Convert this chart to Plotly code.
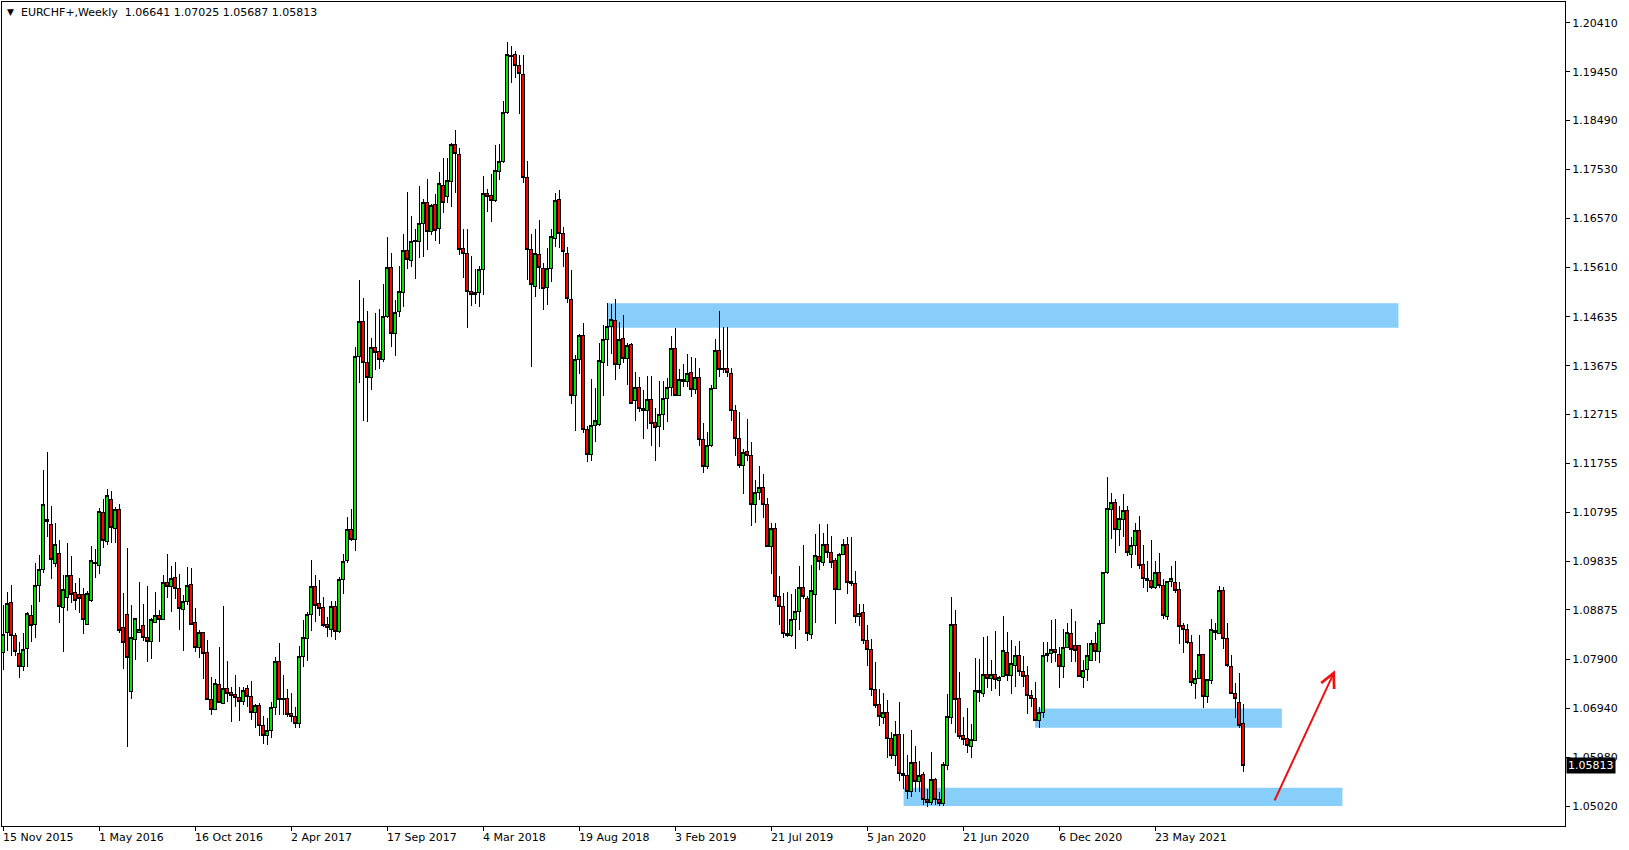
import pandas as pd
import plotly.graph_objects as go

# weekly EURCHF+ candles, starting the week of 15 Nov 2015
first_week = "2015-11-15"

opens = [
    1.0804, 1.0843, 1.0902, 1.0838, 1.0802, 1.0776, 1.0812, 1.0876, 1.0859, 1.0935,
    1.0967, 1.1066, 1.1056, 1.0979, 1.0999, 1.0893, 1.0912, 1.0955, 1.0922, 1.0918,
    1.0917, 1.0859, 1.0906, 1.0980, 1.0975, 1.1079, 1.1022, 1.1105, 1.1048, 1.1084,
    1.0853, 1.0879, 1.0727, 1.0830, 1.0844, 1.0856, 1.0834, 1.0825, 1.0862, 1.0877,
    1.0868, 1.0942, 1.0933, 1.0952, 1.0930, 1.0888, 1.0904, 1.0938, 1.0862, 1.0813,
    1.0844, 1.0803, 1.0712, 1.0692, 1.0740, 1.0704, 1.0734, 1.0726, 1.0722, 1.0716,
    1.0707, 1.0734, 1.0718, 1.0686, 1.0700, 1.0660, 1.0640, 1.0650, 1.0696, 1.0786,
    1.0713, 1.0713, 1.0684, 1.0679, 1.0665, 1.0796, 1.0831, 1.0879, 1.0933, 1.0900,
    1.0893, 1.0858, 1.0850, 1.0895, 1.0846, 1.0948, 1.0984, 1.1046, 1.1025, 1.1386,
    1.1455, 1.1374, 1.1345, 1.1403, 1.1395, 1.1379, 1.1464, 1.1561, 1.1431, 1.1473,
    1.1511, 1.1593, 1.1575, 1.1613, 1.1611, 1.1647, 1.1688, 1.1631, 1.1685, 1.1637,
    1.1721, 1.1700, 1.1729, 1.1802, 1.1783, 1.1597, 1.1588, 1.1513, 1.1508, 1.1512,
    1.1557, 1.1706, 1.1701, 1.1693, 1.1750, 1.1768, 1.1865, 1.1976, 1.1978, 1.1958,
    1.1940, 1.1738, 1.1596, 1.1523, 1.1586, 1.1558, 1.1521, 1.1559, 1.1618, 1.1694,
    1.1628, 1.1588, 1.1498, 1.1308, 1.1380, 1.1426, 1.1242, 1.1192, 1.1249, 1.1251,
    1.1374, 1.1418, 1.1445, 1.1457, 1.1370, 1.1420, 1.1381, 1.1410, 1.1299, 1.1325,
    1.1284, 1.1279, 1.1301, 1.1256, 1.1248, 1.1272, 1.1303, 1.1325, 1.1402, 1.1308,
    1.1341, 1.1336, 1.1354, 1.1321, 1.1345, 1.1223, 1.1170, 1.1210, 1.1323, 1.1398,
    1.1362, 1.1362, 1.1352, 1.1279, 1.1225, 1.1172, 1.1198, 1.1191, 1.1095, 1.1118,
    1.1128, 1.1095, 1.1013, 1.1048, 1.0914, 1.0895, 1.0842, 1.0837, 1.0869, 1.0884,
    1.0932, 1.0910, 1.0839, 1.0918, 1.0993, 1.0981, 1.1017, 1.1001, 1.0984, 1.0928,
    1.0997, 1.1016, 1.0943, 1.0940, 1.0874, 1.0883, 1.0828, 1.0809, 1.0732, 1.0701,
    1.0677, 1.0686, 1.0635, 1.0601, 1.0643, 1.0566, 1.0563, 1.0530, 1.0588, 1.0550,
    1.0564, 1.0515, 1.0510, 1.0555, 1.0515, 1.0508, 1.0581, 1.0677, 1.0859, 1.0714,
    1.0640, 1.0634, 1.0619, 1.0631, 1.0730, 1.0724, 1.0760, 1.0753, 1.0761, 1.0748,
    1.0756, 1.0804, 1.0758, 1.0778, 1.0797, 1.0767, 1.0758, 1.0720, 1.0714, 1.0671,
    1.0686, 1.0798, 1.0802, 1.0810, 1.0800, 1.0776, 1.0814, 1.0841, 1.0817, 1.0817,
    1.0755, 1.0771, 1.0789, 1.0822, 1.0805, 1.0861, 1.0961, 1.1085, 1.1099, 1.1046,
    1.1066, 1.1082, 1.0997, 1.1015, 1.1043, 1.0976, 1.0950, 1.0946, 1.0931, 1.0961,
    1.0935, 1.0874, 1.0943, 1.0942, 1.0927, 1.0856, 1.0850, 1.0824, 1.0743, 1.0752,
    1.0799, 1.0718, 1.0749, 1.0843, 1.0841, 1.0925, 1.0832, 1.0777, 1.0724, 1.0706,
    1.06641,
]

highs = [
    1.0897, 1.0923, 1.0936, 1.0843, 1.0825, 1.0843, 1.0884, 1.0897, 1.0980, 1.0995,
    1.1162, 1.1197, 1.1092, 1.1058, 1.1025, 1.0956, 1.1020, 1.0993, 1.0940, 1.0950,
    1.0930, 1.0925, 1.1013, 1.1008, 1.1087, 1.1105, 1.1125, 1.1121, 1.1090, 1.1095,
    1.0920, 1.1010, 1.0897, 1.0872, 1.0943, 1.0900, 1.0935, 1.0871, 1.0923, 1.0887,
    1.0956, 1.0997, 1.0974, 1.0982, 1.0958, 1.0917, 1.0972, 1.0970, 1.0892, 1.0848,
    1.0845, 1.0828, 1.0755, 1.0752, 1.0815, 1.0895, 1.0787, 1.0737, 1.0759, 1.0737,
    1.0737, 1.0740, 1.0747, 1.0703, 1.0705, 1.0680, 1.0676, 1.0706, 1.0795, 1.0822,
    1.0760, 1.0732, 1.0725, 1.0697, 1.0816, 1.0867, 1.0884, 1.0985, 1.0957, 1.0946,
    1.0912, 1.0873, 1.0906, 1.0906, 1.0953, 1.0997, 1.1070, 1.1085, 1.1404, 1.1536,
    1.1501, 1.1474, 1.1422, 1.1470, 1.1479, 1.1527, 1.1620, 1.1588, 1.1497, 1.1563,
    1.1626, 1.1708, 1.1662, 1.1637, 1.1721, 1.1695, 1.1734, 1.1686, 1.1705, 1.1749,
    1.1776, 1.1776, 1.1806, 1.1831, 1.1796, 1.1636, 1.1637, 1.1583, 1.1557, 1.1564,
    1.1740, 1.1714, 1.1745, 1.1801, 1.1803, 1.1888, 1.2003, 1.1996, 1.1986, 1.1978,
    1.1978, 1.1770, 1.1626, 1.1637, 1.1654, 1.1570, 1.1599, 1.1637, 1.1707, 1.1713,
    1.1639, 1.1601, 1.1555, 1.1388, 1.1430, 1.1452, 1.1248, 1.1341, 1.1324, 1.1413,
    1.1447, 1.1490, 1.1489, 1.1499, 1.1454, 1.1467, 1.1413, 1.1413, 1.1356, 1.1345,
    1.1320, 1.1347, 1.1347, 1.1284, 1.1337, 1.1337, 1.1344, 1.1426, 1.1441, 1.1360,
    1.1370, 1.1390, 1.1384, 1.1382, 1.1362, 1.1254, 1.1238, 1.1330, 1.1419, 1.1475,
    1.1443, 1.1443, 1.1362, 1.1290, 1.1276, 1.1204, 1.1262, 1.1218, 1.1143, 1.1170,
    1.1155, 1.1107, 1.1058, 1.1058, 1.0955, 1.0920, 1.0923, 1.0918, 1.0929, 1.0973,
    1.1015, 1.0914, 1.0976, 1.1037, 1.1056, 1.1039, 1.1056, 1.1033, 1.0989, 1.0999,
    1.1026, 1.1030, 1.1030, 1.0964, 1.0900, 1.0900, 1.0858, 1.0830, 1.0786, 1.0733,
    1.0725, 1.0710, 1.0648, 1.0669, 1.0707, 1.0643, 1.0602, 1.0652, 1.0620, 1.0591,
    1.0570, 1.0535, 1.0608, 1.0558, 1.0530, 1.0588, 1.0722, 1.0912, 1.0887, 1.0765,
    1.0678, 1.0694, 1.0663, 1.0794, 1.0791, 1.0835, 1.0836, 1.0789, 1.0846, 1.0758,
    1.0876, 1.0845, 1.0828, 1.0817, 1.0826, 1.0796, 1.0777, 1.0731, 1.0745, 1.0697,
    1.0825, 1.0825, 1.0868, 1.0870, 1.0815, 1.0851, 1.0862, 1.0889, 1.0866, 1.0818,
    1.0790, 1.0823, 1.0828, 1.0844, 1.0868, 1.0963, 1.1148, 1.1117, 1.1105, 1.1092,
    1.1115, 1.1092, 1.1031, 1.1058, 1.1072, 1.1015, 1.0984, 1.1025, 1.0984, 1.0999,
    1.0948, 1.0945, 1.0974, 1.0984, 1.0943, 1.0862, 1.0859, 1.0838, 1.0769, 1.0838,
    1.0801, 1.0751, 1.0870, 1.0861, 1.0935, 1.0933, 1.0862, 1.0799, 1.0743, 1.0764,
    1.07025,
]

lows = [
    1.0769, 1.0807, 1.0796, 1.0796, 1.0753, 1.0768, 1.0776, 1.0824, 1.0833, 1.0904,
    1.0961, 1.1031, 1.0948, 1.0972, 1.0861, 1.0805, 1.0886, 1.0902, 1.0887, 1.0881,
    1.0840, 1.0858, 1.0904, 1.0951, 1.0959, 1.1010, 1.1015, 1.1020, 1.1020, 1.0842,
    1.0772, 1.0618, 1.0712, 1.0790, 1.0842, 1.0826, 1.0786, 1.0792, 1.0862, 1.0824,
    1.0868, 1.0910, 1.0884, 1.0908, 1.0848, 1.0807, 1.0897, 1.0858, 1.0805, 1.0794,
    1.0751, 1.0710, 1.0681, 1.0692, 1.0704, 1.0704, 1.0707, 1.0668, 1.0697, 1.0670,
    1.0701, 1.0697, 1.0672, 1.0655, 1.0640, 1.0625, 1.0622, 1.0635, 1.0681, 1.0681,
    1.0681, 1.0677, 1.0668, 1.0655, 1.0655, 1.0776, 1.0788, 1.0846, 1.0863, 1.0875,
    1.0854, 1.0835, 1.0835, 1.0829, 1.0843, 1.0919, 1.0980, 1.1023, 1.1004, 1.1333,
    1.1258, 1.1256, 1.1319, 1.1358, 1.1361, 1.1375, 1.1461, 1.1405, 1.1386, 1.1463,
    1.1482, 1.1557, 1.1561, 1.1538, 1.1580, 1.1582, 1.1595, 1.1624, 1.1613, 1.1606,
    1.1668, 1.1688, 1.1680, 1.1707, 1.1584, 1.1539, 1.1442, 1.1484, 1.1488, 1.1482,
    1.1506, 1.1670, 1.1649, 1.1690, 1.1732, 1.1765, 1.1862, 1.1922, 1.1932, 1.1863,
    1.1727, 1.1535, 1.1364, 1.1503, 1.1519, 1.1476, 1.1487, 1.1531, 1.1601, 1.1598,
    1.1562, 1.1491, 1.1293, 1.1240, 1.1351, 1.1236, 1.1179, 1.1181, 1.1218, 1.1249,
    1.1308, 1.1366, 1.1390, 1.1339, 1.1361, 1.1372, 1.1329, 1.1292, 1.1258, 1.1277,
    1.1223, 1.1244, 1.1210, 1.1181, 1.1208, 1.1241, 1.1256, 1.1307, 1.1307, 1.1307,
    1.1325, 1.1325, 1.1305, 1.1312, 1.1210, 1.1157, 1.1164, 1.1207, 1.1321, 1.1346,
    1.1354, 1.1346, 1.1259, 1.1190, 1.1166, 1.1115, 1.1181, 1.1053, 1.1059, 1.1104,
    1.1069, 1.1011, 1.0958, 1.0906, 1.0858, 1.0832, 1.0835, 1.0834, 1.0810, 1.0848,
    1.0908, 1.0827, 1.0830, 1.0862, 1.0966, 1.0974, 1.0989, 1.0970, 1.0859, 1.0927,
    1.0995, 1.0918, 1.0935, 1.0862, 1.0856, 1.0820, 1.0777, 1.0719, 1.0695, 1.0660,
    1.0663, 1.0596, 1.0595, 1.0581, 1.0552, 1.0535, 1.0515, 1.0520, 1.0530, 1.0530,
    1.0505, 1.0500, 1.0505, 1.0505, 1.0502, 1.0503, 1.0573, 1.0663, 1.0646, 1.0634,
    1.0623, 1.0606, 1.0597, 1.0629, 1.0707, 1.0717, 1.0735, 1.0729, 1.0732, 1.0718,
    1.0755, 1.0747, 1.0722, 1.0737, 1.0758, 1.0737, 1.0683, 1.0697, 1.0669, 1.0655,
    1.0676, 1.0786, 1.0784, 1.0786, 1.0735, 1.0754, 1.0813, 1.0786, 1.0786, 1.0755,
    1.0735, 1.0747, 1.0788, 1.0788, 1.0784, 1.0860, 1.0959, 1.1027, 1.0999, 1.1014,
    1.1031, 1.0993, 1.0970, 1.0995, 1.0967, 1.0930, 1.0923, 1.0929, 1.0929, 1.0930,
    1.0870, 1.0868, 1.0933, 1.0920, 1.0821, 1.0802, 1.0821, 1.0738, 1.0712, 1.0751,
    1.0694, 1.0704, 1.0742, 1.0828, 1.0840, 1.0810, 1.0776, 1.0722, 1.0676, 1.0655,
    1.05687,
]

closes = [
    1.0840, 1.0900, 1.0837, 1.0805, 1.0776, 1.0810, 1.0881, 1.0857, 1.0936, 1.0967,
    1.1094, 1.1061, 1.0987, 1.1016, 1.0894, 1.0927, 1.0955, 1.0918, 1.0907, 1.0910,
    1.0869, 1.0920, 1.0984, 1.0979, 1.1080, 1.1024, 1.1113, 1.1049, 1.1084, 1.0847,
    1.0824, 1.0794, 1.0834, 1.0870, 1.0849, 1.0833, 1.0825, 1.0868, 1.0877, 1.0868,
    1.0942, 1.0933, 1.0950, 1.0929, 1.0890, 1.0904, 1.0936, 1.0859, 1.0813, 1.0844,
    1.0802, 1.0711, 1.0692, 1.0742, 1.0705, 1.0733, 1.0724, 1.0720, 1.0716, 1.0707,
    1.0730, 1.0718, 1.0686, 1.0700, 1.0660, 1.0640, 1.0650, 1.0696, 1.0786, 1.0711,
    1.0711, 1.0682, 1.0679, 1.0665, 1.0796, 1.0833, 1.0879, 1.0933, 1.0897, 1.0890,
    1.0856, 1.0852, 1.0895, 1.0846, 1.0948, 1.0983, 1.1046, 1.1025, 1.1386, 1.1455,
    1.1374, 1.1345, 1.1403, 1.1394, 1.1380, 1.1464, 1.1561, 1.1431, 1.1472, 1.1513,
    1.1593, 1.1577, 1.1612, 1.1612, 1.1647, 1.1688, 1.1631, 1.1683, 1.1634, 1.1726,
    1.1688, 1.1732, 1.1802, 1.1785, 1.1596, 1.1588, 1.1513, 1.1508, 1.1512, 1.1557,
    1.1706, 1.1700, 1.1692, 1.1751, 1.1768, 1.1865, 1.1978, 1.1975, 1.1957, 1.1942,
    1.1738, 1.1596, 1.1527, 1.1588, 1.1561, 1.1519, 1.1559, 1.1622, 1.1693, 1.1628,
    1.1592, 1.1500, 1.1308, 1.1380, 1.1426, 1.1242, 1.1193, 1.1249, 1.1259, 1.1377,
    1.1418, 1.1445, 1.1459, 1.1370, 1.1418, 1.1381, 1.1408, 1.1294, 1.1325, 1.1284,
    1.1279, 1.1301, 1.1254, 1.1246, 1.1272, 1.1303, 1.1325, 1.1402, 1.1308, 1.1341,
    1.1336, 1.1352, 1.1321, 1.1345, 1.1223, 1.1170, 1.1210, 1.1323, 1.1398, 1.1359,
    1.1359, 1.1354, 1.1279, 1.1225, 1.1171, 1.1197, 1.1191, 1.1095, 1.1118, 1.1128,
    1.1095, 1.1013, 1.1048, 1.0914, 1.0895, 1.0842, 1.0837, 1.0869, 1.0884, 1.0932,
    1.0914, 1.0842, 1.0925, 1.0994, 1.0982, 1.1017, 1.1001, 1.0980, 1.0928, 1.0997,
    1.1016, 1.0942, 1.0940, 1.0874, 1.0881, 1.0827, 1.0810, 1.0731, 1.0699, 1.0678,
    1.0686, 1.0635, 1.0601, 1.0643, 1.0566, 1.0562, 1.0530, 1.0588, 1.0550, 1.0562,
    1.0515, 1.0510, 1.0555, 1.0515, 1.0508, 1.0583, 1.0679, 1.0859, 1.0712, 1.0638,
    1.0633, 1.0621, 1.0632, 1.0730, 1.0726, 1.0760, 1.0753, 1.0761, 1.0750, 1.0755,
    1.0807, 1.0758, 1.0782, 1.0798, 1.0766, 1.0756, 1.0719, 1.0714, 1.0671, 1.0686,
    1.0798, 1.0802, 1.0810, 1.0804, 1.0776, 1.0814, 1.0843, 1.0810, 1.0807, 1.0756,
    1.0769, 1.0797, 1.0822, 1.0805, 1.0861, 1.0961, 1.1086, 1.1099, 1.1046, 1.1067,
    1.1082, 1.1001, 1.1015, 1.1043, 1.0974, 1.0950, 1.0946, 1.0931, 1.0961, 1.0935,
    1.0876, 1.0944, 1.0950, 1.0925, 1.0855, 1.0850, 1.0824, 1.0745, 1.0752, 1.0800,
    1.0718, 1.0750, 1.0849, 1.0848, 1.0925, 1.0832, 1.0779, 1.0724, 1.0714, 1.0660,
    1.05813,
]

tick_dates = [
    "2015-11-15", "2016-05-01", "2016-10-16", "2017-04-02", "2017-09-17",
    "2018-03-04", "2018-08-19", "2019-02-03", "2019-07-21", "2020-01-05",
    "2020-06-21", "2020-12-06", "2021-05-23",
]
tick_labels = [
    "15 Nov 2015", "1 May 2016", "16 Oct 2016", "2 Apr 2017", "17 Sep 2017",
    "4 Mar 2018", "19 Aug 2018", "3 Feb 2019", "21 Jul 2019", "5 Jan 2020",
    "21 Jun 2020", "6 Dec 2020", "23 May 2021",
]

price_ticks = [
    1.20410, 1.19450, 1.18490, 1.17530, 1.16570, 1.15610, 1.14635, 1.13675,
    1.12715, 1.11755, 1.10795, 1.09835, 1.08875, 1.07900, 1.06940, 1.05980,
    1.05020,
]
price_labels = [f"{p:.5f}" for p in price_ticks]

# supply / demand zones: (start, end, low, high)
zones = [
    ("2018-10-07", "2022-07-23", 1.1442, 1.1490),
    ("2020-10-25", "2021-12-31", 1.0656, 1.0694),
    ("2020-03-09", "2022-04-16", 1.0502, 1.0538),
]

arrow_from = ("2021-12-17", 1.0510)
arrow_to = ("2022-04-03", 1.0769)

header = "EURCHF+,Weekly\u00a0\u00a01.06641 1.07025 1.05687 1.05813"

dates = pd.date_range(first_week, periods=len(closes), freq="W-SUN")
font = "DejaVu Sans"

fig = go.Figure()

fig.add_trace(
    go.Candlestick(
        x=dates,
        open=opens,
        high=highs,
        low=lows,
        close=closes,
        increasing=dict(line=dict(color="black", width=1), fillcolor="#00e600"),
        decreasing=dict(line=dict(color="black", width=1), fillcolor="#ff0000"),
        whiskerwidth=0,
        showlegend=False,
    )
)

for start, end, low, high in zones:
    fig.add_shape(
        type="rect",
        xref="x",
        yref="y",
        x0=start,
        x1=end,
        y0=low,
        y1=high,
        fillcolor="#87cefa",
        line_width=0,
        layer="below",
    )

fig.add_annotation(
    x=arrow_to[0],
    y=arrow_to[1],
    ax=arrow_from[0],
    ay=arrow_from[1],
    xref="x",
    yref="y",
    axref="x",
    ayref="y",
    text="",
    showarrow=True,
    arrowhead=5,
    arrowsize=1.4,
    arrowwidth=2,
    arrowcolor="#ee1111",
)

# date labels sit to the right of their tick, as in the terminal
for d, label in zip(tick_dates, tick_labels):
    fig.add_annotation(
        x=d,
        y=0,
        xref="x",
        yref="paper",
        text=label,
        showarrow=False,
        xanchor="left",
        yanchor="top",
        xshift=-2,
        yshift=-3,
        font=dict(family=font, size=11, color="black"),
    )

fig.add_annotation(
    x=0,
    y=1,
    xref="paper",
    yref="paper",
    text="\u25bc",
    showarrow=False,
    xanchor="left",
    yanchor="top",
    xshift=3,
    yshift=-3,
    font=dict(family=font, size=9, color="black"),
)
fig.add_annotation(
    x=0,
    y=1,
    xref="paper",
    yref="paper",
    text=header,
    showarrow=False,
    xanchor="left",
    yanchor="top",
    xshift=17,
    yshift=-2,
    font=dict(family=font, size=11, color="black"),
)

# current price marker on the price scale
fig.add_annotation(
    x=1,
    y=closes[-1],
    xref="paper",
    yref="y",
    text=f"{closes[-1]:.5f}",
    showarrow=False,
    xanchor="left",
    xshift=1,
    bgcolor="black",
    borderpad=1,
    font=dict(family=font, size=11, color="white"),
)

x_start = dates[0] - pd.Timedelta(days=1.75)
x_end = dates[0] + pd.Timedelta(weeks=390.5)

fig.update_layout(
    width=1629,
    height=850,
    margin=dict(l=2, r=64, t=2, b=24),
    paper_bgcolor="white",
    plot_bgcolor="white",
    font=dict(family=font, size=11, color="black"),
    showlegend=False,
    boxgap=0.22,
    boxgroupgap=0,
    xaxis=dict(
        type="date",
        range=[x_start, x_end],
        rangeslider=dict(visible=False),
        tickvals=tick_dates,
        showticklabels=False,
        ticks="outside",
        ticklen=4,
        tickcolor="black",
        showgrid=False,
        zeroline=False,
        showline=True,
        linecolor="black",
        linewidth=1,
        mirror=True,
    ),
    yaxis=dict(
        side="right",
        range=[1.04629, 1.20821],
        tickvals=price_ticks,
        ticktext=price_labels,
        ticks="outside",
        ticklen=4,
        tickcolor="black",
        showgrid=False,
        zeroline=False,
        showline=True,
        linecolor="black",
        linewidth=1,
        mirror=True,
    ),
)

# drop the page's default 8px body margin and draw candle edges pixel-sharp
page_js = (
    "document.body.style.margin = '0';"
    "document.querySelectorAll('.boxlayer path').forEach(function (p) {"
    " p.style.shapeRendering = 'crispEdges'; });"
)
fig.write_html("out.html", config={"displayModeBar": False}, post_script=page_js)
